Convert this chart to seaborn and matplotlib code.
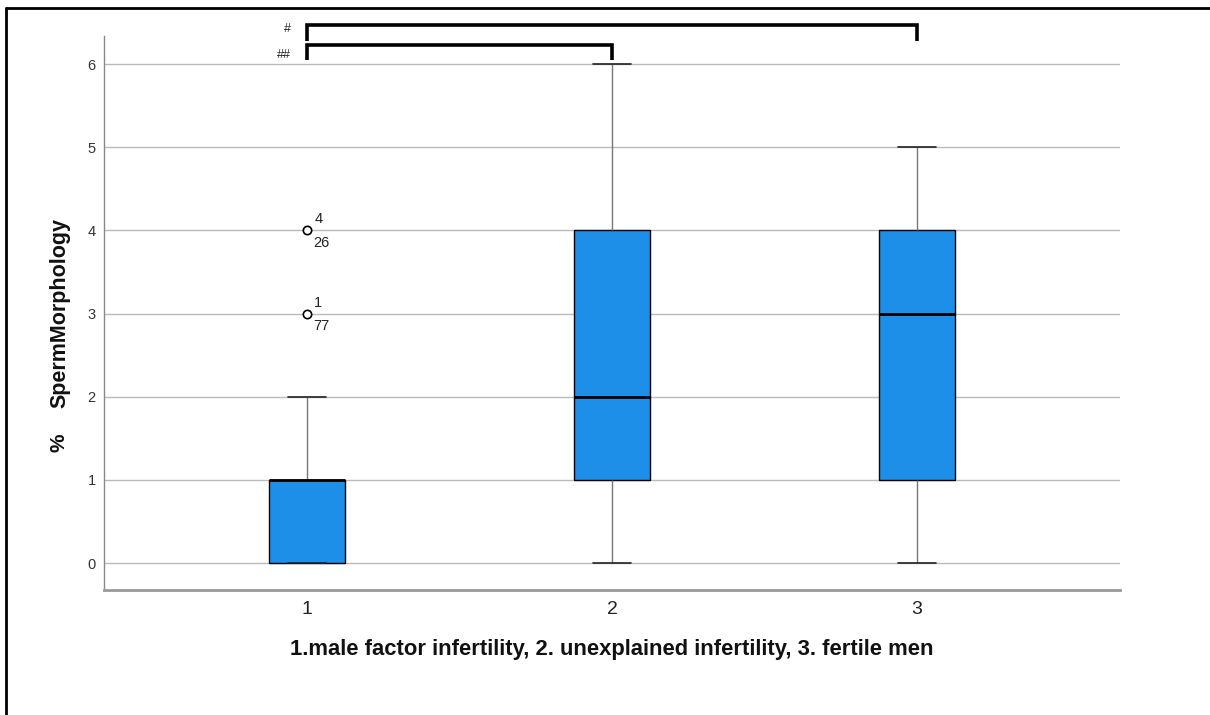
import pandas as pd
import matplotlib.pyplot as plt
from matplotlib.lines import Line2D
import seaborn as sns

# group codes on the x axis
groups = ['1', '2', '3']

# sample values per group (chosen so the box statistics match the picture)
male_factor = [0, 0, 0, 0, 0, 1, 1, 1, 1, 1, 1, 2, 3, 4]
unexplained = [0, 1, 1, 1, 2, 2, 2, 3, 4, 4, 4, 5, 6]
fertile = [0, 1, 1, 1, 2, 3, 3, 3, 4, 4, 4, 5, 5]

# case numbers printed next to the outliers of group 1: value -> (upper, lower)
outlier_values = [4, 3]
outlier_labels = [('4', '26'), ('1', '77')]

# significance brackets: (from group, to group, mark)
bracket_pairs = [(0, 2, '#'), (0, 1, '##')]

df = pd.DataFrame({
    'group': ['1'] * len(male_factor) + ['2'] * len(unexplained) + ['3'] * len(fertile),
    'value': male_factor + unexplained + fertile,
})

sns.set_theme(style='white')
plt.rcParams['font.family'] = ['Liberation Sans', 'DejaVu Sans']

fig = plt.figure(figsize=(12.1, 7.15), dpi=100)
ax = fig.add_axes([0.086, 0.1748, 0.8396, 0.7749])

sns.boxplot(
    data=df, x='group', y='value', order=groups, ax=ax,
    width=0.25, color='#1e8fe8', saturation=1, linecolor='black', linewidth=1,
    whis=1.5,
    flierprops=dict(marker='o', markersize=6, markerfacecolor='white',
                    markeredgecolor='black', markeredgewidth=1.2),
    medianprops=dict(color='black', linewidth=2),
    whiskerprops=dict(color='#777777', linewidth=1),
    capprops=dict(color='#222222', linewidth=1.2),
)

ax.set_xlim(-0.667, 2.667)
ax.set_ylim(-0.325, 6.34)
ax.set_yticks(range(7))
ax.yaxis.grid(True, color='#bbbbbb', linewidth=1)
ax.xaxis.grid(False)
ax.set_axisbelow(True)
ax.tick_params(axis='both', length=0)
ax.tick_params(axis='y', labelsize=10.5, pad=6, labelcolor='#333333')
ax.tick_params(axis='x', labelsize=14, pad=8, labelcolor='#222222')

for side in ['top', 'right']:
    ax.spines[side].set_visible(False)
ax.spines['left'].set_color('#888888')
ax.spines['left'].set_linewidth(1)
ax.spines['bottom'].set_color('#999999')
ax.spines['bottom'].set_linewidth(2)

# axis titles
ax.set_xlabel('1.male factor infertility, 2. unexplained infertility, 3. fertile men',
              fontsize=15.8, fontweight='bold', color='#111111')
ax.xaxis.label.set_va('center')
ax.xaxis.set_label_coords(0.5, -0.108)
ax.set_ylabel('SpermMorphology', fontsize=15.5, fontweight='bold', color='#111111')
ax.yaxis.label.set_va('center')
ax.yaxis.set_label_coords(-0.0433, 0.5)
ax.text(-0.0445, 0.265, '%', transform=ax.transAxes, rotation=90,
        fontsize=15, fontweight='bold', color='#111111', ha='center', va='center')

# case labels for the outliers
for val, (upper, lower) in zip(outlier_values, outlier_labels):
    ax.annotate(upper, (0, val), xytext=(5, 8), textcoords='offset points',
                fontsize=10.5, ha='left', va='center', color='#222222')
    ax.annotate(lower, (0, val), xytext=(4, -9), textcoords='offset points',
                fontsize=10.5, ha='left', va='center', color='#222222')

# significance brackets above the plot
bracket_heights = [(6.276, 6.469), (6.048, 6.228)]
mark_heights = [6.42, 6.108]
for (a, b, mark), (lo, hi), my in zip(bracket_pairs, bracket_heights, mark_heights):
    ax.plot([a, a, b, b], [lo, hi, hi, lo], color='black', lw=2.6,
            clip_on=False, solid_joinstyle='miter', solid_capstyle='butt')
    ax.text(a - 0.055, my, mark, fontsize=9, ha='right', va='center',
            color='#222222', clip_on=False)

# outer frame (left and top edges of the screenshot)
fig.add_artist(Line2D([0.005, 0.005], [0, 0.989], transform=fig.transFigure,
                      color='black', lw=2))
fig.add_artist(Line2D([0.005, 1], [0.989, 0.989], transform=fig.transFigure,
                      color='black', lw=2))

fig.savefig('out.png', dpi=100)
